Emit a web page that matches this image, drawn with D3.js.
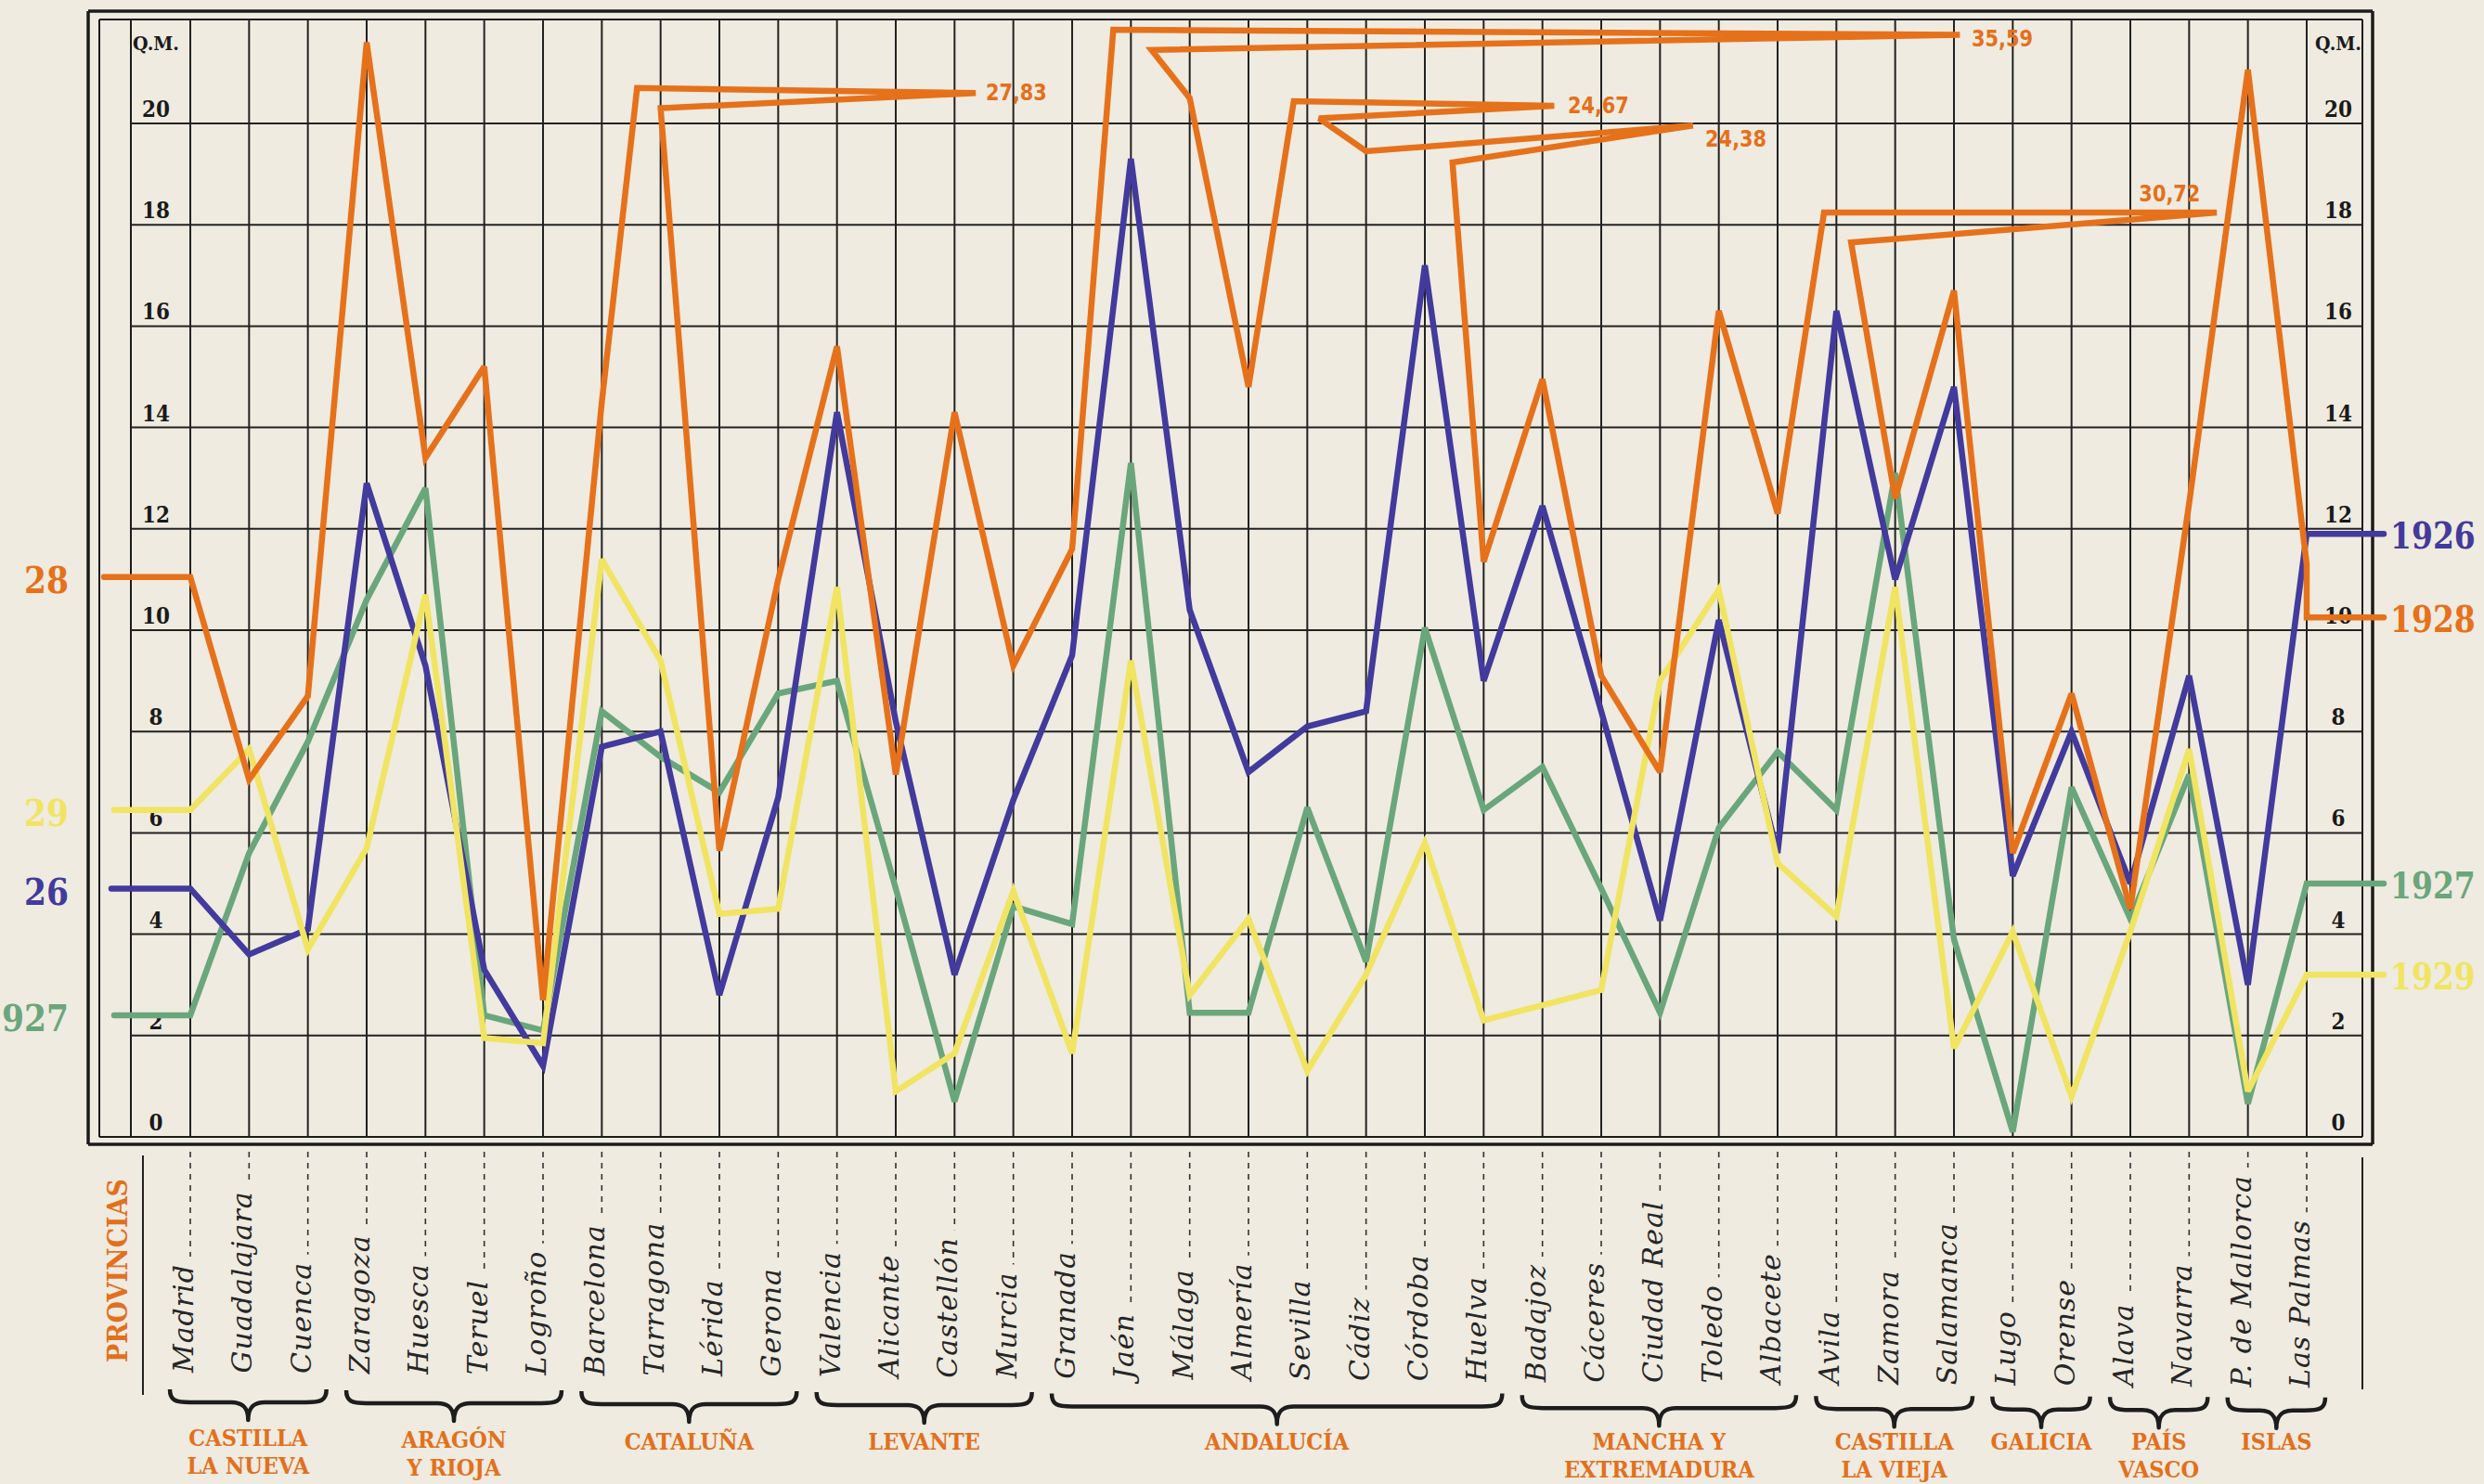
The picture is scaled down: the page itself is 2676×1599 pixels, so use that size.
<!DOCTYPE html>
<html>
<head>
<meta charset="utf-8">
<title>Quintales métricos por provincia, 1926-1929</title>
<script src="https://cdnjs.cloudflare.com/ajax/libs/d3/7.8.5/d3.min.js"></script>
<style>
  body { margin: 0; background: #efebe0; overflow: hidden; }
  svg { display: block; }
  .frame line { stroke: #1b1b1b; }
  .grid line { stroke: #222; stroke-width: 2; }
  .tick-label { font-family: "DejaVu Serif"; font-weight: bold; font-size: 25px; fill: #1a1a1a; text-anchor: middle; }
  .unit { font-family: "DejaVu Serif"; font-weight: bold; font-size: 20px; fill: #1a1a1a; text-anchor: middle; }
  .prov { font-family: "DejaVu Serif"; font-style: italic; font-size: 30px; letter-spacing: 1px; fill: #262626; }
  .dots { stroke: #333; stroke-width: 1.6; stroke-dasharray: 6 6; }
  .brace { fill: none; stroke: #1d1d1d; stroke-width: 4.5; stroke-linejoin: round; }
  .region { font-family: "DejaVu Serif"; font-weight: bold; font-size: 25px; fill: #e2701d; text-anchor: middle; }
  .year-label { font-family: "DejaVu Serif"; font-weight: bold; font-size: 40px; dominant-baseline: central; }
  .year-right { font-family: "DejaVu Serif"; font-weight: bold; font-size: 33px; dominant-baseline: central; }
  .off-label { font-family: "DejaVu Sans"; font-weight: bold; font-size: 25px; fill: #e4701b; dominant-baseline: central; }
  .series { fill: none; stroke-width: 6.5; stroke-linejoin: miter; stroke-miterlimit: 3; stroke-linecap: round; }
</style>
</head>
<body>
<svg id="chart"></svg>
<script>
// provincias en el orden del gráfico
const provinces = ["Madrid", "Guadalajara", "Cuenca", "Zaragoza", "Huesca", "Teruel", "Logroño",
  "Barcelona", "Tarragona", "Lérida", "Gerona", "Valencia", "Alicante", "Castellón", "Murcia",
  "Granada", "Jaén", "Málaga", "Almería", "Sevilla", "Cádiz", "Córdoba", "Huelva",
  "Badajoz", "Cáceres", "Ciudad Real", "Toledo", "Albacete", "Avila", "Zamora", "Salamanca",
  "Lugo", "Orense", "Alava", "Navarra", "P. de Mallorca", "Las Palmas"];

// Q.M. por año
const q1926 = [4.9, 3.6, 4.1, 12.9, 9.3, 3.3, 1.4, 7.7, 8.0, 2.8, 6.7, 14.3, 8.2, 3.2, 6.65,
  9.5, 19.3, 10.4, 7.2, 8.1, 8.4, 17.2, 9.0, 12.45, 8.4, 4.27, 10.2, 5.6, 16.3, 11.0, 14.8,
  5.15, 8.0, 5.0, 9.1, 3.0, 11.9];
const q1927 = [2.4, 5.6, 7.8, 10.6, 12.8, 2.4, 2.1, 8.4, 7.5, 6.8, 8.75, 9.0, 4.9, 0.7, 4.55,
  4.2, 13.3, 2.45, 2.45, 6.5, 3.46, 10.05, 6.45, 7.3, 4.9, 2.45, 6.1, 7.6, 6.45, 13.1, 3.9,
  0.1, 6.9, 4.3, 7.15, 0.65, 5.0];
const q1928 = [11.05, 7.05, 8.7, 21.6, 13.4, 15.2, 2.7, 14.5, 27.83, 5.65, 11.0, 15.6, 7.15, 14.3, 9.3,
  11.6, 35.59, 20.5, 14.8, 24.67, 19.45, 24.38, 11.35, 14.95, 9.1, 7.2, 16.3, 12.3, 30.72, 12.6, 16.7,
  5.6, 8.75, 4.5, 12.5, 21.06, 11.3];
const q1929 = [6.45, 7.65, 3.7, 5.7, 10.7, 1.95, 1.85, 11.4, 9.4, 4.4, 4.5, 10.85, 0.9, 1.65, 4.85,
  1.65, 9.4, 2.8, 4.3, 1.3, 3.2, 5.8, 2.3, 2.6, 2.9, 9.0, 10.8, 5.4, 4.35, 10.85, 1.75,
  4.05, 0.8, 4.05, 7.65, 0.9, 3.2];

// regiones: nombre (líneas) y primera / última provincia
const regionNames = [["CASTILLA", "LA NUEVA"], ["ARAGÓN", "Y RIOJA"], ["CATALUÑA"], ["LEVANTE"],
  ["ANDALUCÍA"], ["MANCHA Y", "EXTREMADURA"], ["CASTILLA", "LA VIEJA"], ["GALICIA"],
  ["PAÍS", "VASCO"], ["ISLAS"]];
const regionSpans = [["Madrid", "Cuenca"], ["Zaragoza", "Logroño"], ["Barcelona", "Gerona"],
  ["Valencia", "Murcia"], ["Granada", "Huelva"], ["Badajoz", "Albacete"], ["Avila", "Salamanca"],
  ["Lugo", "Orense"], ["Alava", "Navarra"], ["P. de Mallorca", "Las Palmas"]];

const yTicks = [0, 2, 4, 6, 8, 10, 12, 14, 16, 18, 20];

// valores fuera de escala: trazo hasta la cifra (índice de provincia, Q.M. de la escala)
const offScale = {
  "Tarragona": { up: [7.6, 20.7], end: [13.36, 20.6], back: [8.0, 20.3], label: [13.53, 20.62], anchor: "start" },
  "Jaén": { up: [15.7, 21.85], end: [30.1, 21.75], back: [16.35, 21.45], label: [30.3, 21.67], anchor: "start" },
  "Sevilla": { up: [18.77, 20.44], end: [23.2, 20.35], back: [19.2, 20.1], label: [23.43, 20.35], anchor: "start" },
  "Córdoba": { up: [20.0, 19.45], end: [25.56, 19.96], back: [21.47, 19.23], label: [25.77, 19.69], anchor: "start" },
  "Avila": { up: [27.79, 18.24], end: [34.47, 18.24], back: [28.25, 17.65], label: [34.19, 18.62], anchor: "end" }
};

const W = 2676, H = 1599;
const svg = d3.select("#chart").attr("width", W).attr("height", H);

const x = d3.scaleLinear().domain([0, provinces.length - 1]).range([205, 2485]);
const y = d3.scaleLinear().domain([0, 20]).range([1225, 133]);
const idx = name => provinces.indexOf(name);
const fmt = d3.formatLocale({ decimal: ",", thousands: ".", grouping: [3], currency: ["", ""] }).format(".2f");

// marco
const frame = svg.append("g").attr("class", "frame");
const L = 95, R = 2556, T = 12, B = 1233;
[[L, T, R, T, 3.5], [107, 21, 2545, 21, 2], [L, B, R, B, 3.5], [107, 1225, 2545, 1225, 2],
 [L, T, L, B, 3.5], [107, 21, 107, 1225, 2], [R, T, R, B, 3.5], [2545, 21, 2545, 1225, 2],
 [141, 21, 141, 1225, 2]].forEach(s => {
  frame.append("line").attr("x1", s[0]).attr("y1", s[1]).attr("x2", s[2]).attr("y2", s[3]).attr("stroke-width", s[4]);
});

// cuadrícula
const grid = svg.append("g").attr("class", "grid");
grid.selectAll("line.h").data(yTicks.filter(d => d > 0)).join("line").attr("class", "h")
  .attr("x1", 141).attr("x2", 2545).attr("y1", d => y(d)).attr("y2", d => y(d));
grid.selectAll("line.v").data(provinces).join("line").attr("class", "v")
  .attr("x1", (d, i) => x(i)).attr("x2", (d, i) => x(i)).attr("y1", 21).attr("y2", 1225);

// escalas a ambos lados
[168, 2519].forEach(cx => {
  svg.append("g").selectAll("text").data(yTicks).join("text").attr("class", "tick-label")
    .attr("x", cx).attr("y", d => y(d) - 7)
    .attr("textLength", d => String(d).length * 15).attr("lengthAdjust", "spacingAndGlyphs")
    .text(d => d);
  svg.append("text").attr("class", "unit").attr("x", cx).attr("y", 54)
    .attr("textLength", 50).attr("lengthAdjust", "spacingAndGlyphs").text("Q.M.");
});

// series (leyenda izquierda: lo que se ve del año en el borde)
const series = [
  { year: "1927", leftText: "927", values: q1927, color: "#6aa67c", left: 123 },
  { year: "1926", leftText: "26", values: q1926, color: "#423a9c", left: 120 },
  { year: "1929", leftText: "29", values: q1929, color: "#f0e462", left: 123 },
  { year: "1928", leftText: "28", values: q1928, color: "#e6711b", left: 112, tail: 10.25 }
];
const rightEnd = 2568;
const line = d3.line().x(d => x(d[0])).y(d => y(d[1]));

series.forEach(s => {
  const last = s.values.length - 1;
  const tail = s.tail !== undefined ? s.tail : s.values[last];
  const pts = [[x.invert(s.left), s.values[0]]];
  s.values.forEach((v, i) => {
    const o = offScale[provinces[i]];
    if (v > 22 && o) pts.push(o.up, o.end, o.back);
    else pts.push([i, v]);
  });
  pts.push([last, tail], [x.invert(rightEnd), tail]);
  svg.append("path").attr("class", "series").attr("d", line(pts)).attr("stroke", s.color);

  s.values.forEach((v, i) => {
    const o = offScale[provinces[i]];
    if (v > 22 && o) {
      svg.append("text").attr("class", "off-label").attr("x", x(o.label[0])).attr("y", y(o.label[1]))
        .attr("text-anchor", o.anchor)
        .attr("textLength", 66).attr("lengthAdjust", "spacingAndGlyphs").text(fmt(v));
    }
  });

  svg.append("text").attr("class", "year-label").attr("fill", s.color)
    .attr("x", 74).attr("y", y(s.values[0]) + 3).attr("text-anchor", "end")
    .attr("textLength", s.leftText.length * 24).attr("lengthAdjust", "spacingAndGlyphs")
    .text(s.leftText);
  svg.append("text").attr("class", "year-right").attr("fill", s.color)
    .attr("transform", `translate(2575,${y(tail) + 2}) scale(1,1.2)`)
    .text(s.year);
});

// nombres de provincia
const baseY = px => 1479 + 0.007 * (px - 200);
const names = svg.append("g");
provinces.forEach((p, i) => {
  const px = x(i), by = baseY(px);
  const t = names.append("text").attr("class", "prov")
    .attr("transform", `translate(${px + 3},${by}) rotate(-90)`).text(p);
  const len = t.node().getComputedTextLength();
  names.append("line").attr("class", "dots")
    .attr("x1", px).attr("x2", px).attr("y1", 1241).attr("y2", by - len - 8);
});

svg.append("line").attr("x1", 154).attr("x2", 154).attr("y1", 1245).attr("y2", 1503)
  .attr("stroke", "#222").attr("stroke-width", 2);
svg.append("line").attr("x1", 2545).attr("x2", 2545).attr("y1", 1247).attr("y2", 1497)
  .attr("stroke", "#222").attr("stroke-width", 2);
svg.append("text").attr("class", "region")
  .attr("transform", "translate(137,1369) rotate(-90)")
  .attr("textLength", 198).attr("lengthAdjust", "spacingAndGlyphs")
  .style("font-size", "30px").text("PROVINCIAS");

// llaves y regiones
function bracePath(xa, xb, y0) {
  const xm = (xa + xb) / 2;
  return `M${xa},${y0 - 14} C${xa},${y0 - 2} ${xa + 6},${y0} ${xa + 22},${y0}` +
    ` L${xm - 18},${y0} C${xm - 6},${y0} ${xm},${y0 + 5} ${xm},${y0 + 19}` +
    ` C${xm},${y0 + 5} ${xm + 6},${y0} ${xm + 18},${y0}` +
    ` L${xb - 22},${y0} C${xb - 6},${y0} ${xb},${y0 - 2} ${xb},${y0 - 14}`;
}
regionSpans.forEach((sp, k) => {
  const xa = x(idx(sp[0])) - 22, xb = x(idx(sp[1])) + 20, xm = (xa + xb) / 2;
  const y0 = 1510 + 0.004 * xm;
  svg.append("path").attr("class", "brace").attr("d", bracePath(xa, xb, y0));
  const b1 = Math.min(1556 + 0.0075 * xm, 1562);
  regionNames[k].forEach((ln, j) => {
    const t = svg.append("text").attr("class", "region").attr("x", xm)
      .attr("y", b1 + j * 30).text(ln);
    const w = t.node().getComputedTextLength();
    t.attr("textLength", w * 0.9).attr("lengthAdjust", "spacingAndGlyphs");
  });
});
</script>
</body>
</html>
